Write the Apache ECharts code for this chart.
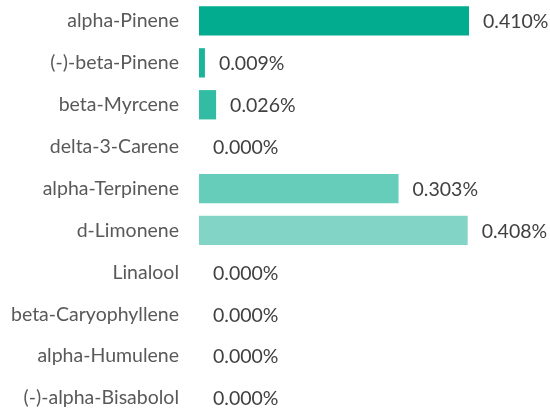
<!DOCTYPE html>
<html>
<head>
<meta charset="utf-8">
<script src="https://cdn.jsdelivr.net/npm/echarts@6/dist/echarts.min.js"></script>
<style>
  html, body { margin: 0; padding: 0; background: #fff; }
  #chart { width: 550px; height: 419px; }
</style>
</head>
<body>
<div id="chart"></div>
<script>
const categories = [
  'alpha-Pinene', '(-)-beta-Pinene', 'beta-Myrcene', 'delta-3-Carene',
  'alpha-Terpinene', 'd-Limonene', 'Linalool', 'beta-Caryophyllene',
  'alpha-Humulene', '(-)-alpha-Bisabolol'
];
const values = [0.410, 0.009, 0.026, 0.000, 0.303, 0.408, 0.000, 0.000, 0.000, 0.000];
const barColors = [
  '#02ac8e', '#1ab49a', '#33bca4', '#4cc4b0',
  '#66cdbb', '#82d5c6', '#99dccf', '#b2e5dc',
  '#cceee8', '#e5f6f3'
];

const FONT = 'Lato, "Open Sans", sans-serif';

const chart = echarts.init(document.getElementById('chart'));
chart.setOption({
  animation: false,
  grid: { left: 199, top: -2, width: 270, height: 429 },
  xAxis: {
    type: 'value',
    min: 0,
    max: 0.41,
    show: false
  },
  yAxis: {
    type: 'category',
    inverse: true,
    data: categories,
    axisLine: { show: false },
    axisTick: { show: false },
    axisLabel: {
      margin: 20,
      color: '#595959',
      fontSize: 19.5,
      fontFamily: FONT
    }
  },
  series: [{
    type: 'bar',
    barWidth: '70%',
    data: values.map((v, i) => ({ value: v, itemStyle: { color: barColors[i] } })),
    label: {
      show: true,
      position: 'right',
      distance: 14,
      offset: [0, 1],
      color: '#404040',
      fontSize: 19.5,
      fontFamily: FONT,
      formatter: (p) => p.value.toFixed(3) + '%'
    }
  }]
});
</script>
</body>
</html>
